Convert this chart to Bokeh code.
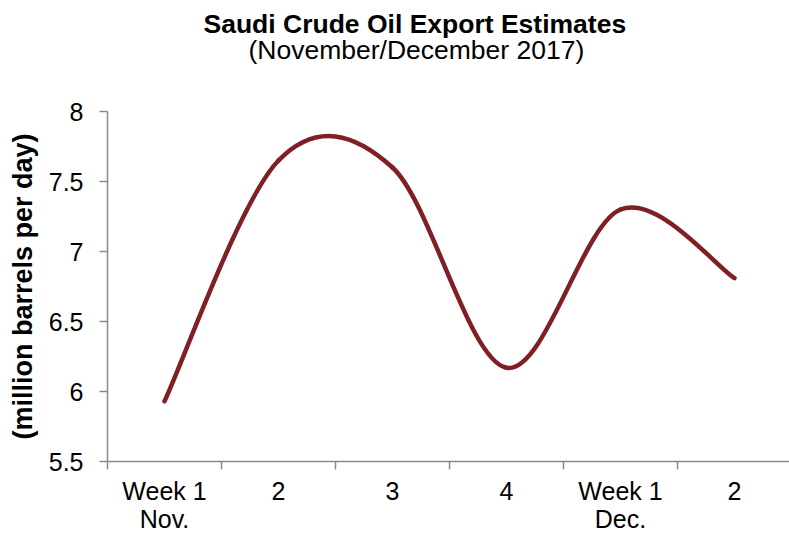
from bokeh.plotting import figure
from bokeh.models import FixedTicker, Title, Range1d, ColumnDataSource, LinearAxis
from bokeh.embed import file_html
from bokeh.resources import INLINE

# ---- data ----
week_labels = ["Week 1", "2", "3", "4", "Week 1", "2"]
month_labels = ["Nov.", "", "", "", "Dec.", ""]
exports = [5.93, 7.65, 7.60, 6.17, 7.30, 6.81]
y_ticks = [5.5, 6, 6.5, 7, 7.5, 8]
title_text = "Saudi Crude Oil Export Estimates"
subtitle_text = "(November/December 2017)"
y_label = "(million barrels per day)"

FONT = "Liberation Sans"
LINE_COLOR = "#7f1f26"
AXIS_COLOR = "#8a8a8a"

n = len(exports)
xs = [i + 0.5 for i in range(n)]

# smooth curve (Catmull-Rom -> cubic Bezier segments)
def ctrl(i):
    prev = max(i - 1, 0)
    nxt = min(i + 1, n - 1)
    return (xs[nxt] - xs[prev]) / 6.0, (exports[nxt] - exports[prev]) / 6.0

x0, y0, x1, y1, cx0, cy0, cx1, cy1 = [], [], [], [], [], [], [], []
for i in range(n - 1):
    dxa, dya = ctrl(i)
    dxb, dyb = ctrl(i + 1)
    x0.append(xs[i]); y0.append(exports[i])
    x1.append(xs[i + 1]); y1.append(exports[i + 1])
    cx0.append(xs[i] + dxa); cy0.append(exports[i] + dya)
    cx1.append(xs[i + 1] - dxb); cy1.append(exports[i + 1] - dyb)

src = ColumnDataSource(dict(x0=x0, y0=y0, x1=x1, y1=y1,
                            cx0=cx0, cy0=cy0, cx1=cx1, cy1=cy1))

p = figure(width=789, height=535, output_backend="svg", toolbar_location=None,
           x_range=Range1d(0, 682 / 114), y_range=Range1d(5.5, 8),
           min_border_left=107, min_border_right=0, min_border_top=111,
           min_border_bottom=73)
p.outline_line_color = None
p.grid.grid_line_color = None
p.background_fill_color = "white"
p.border_fill_color = "white"

p.bezier(x0="x0", y0="y0", x1="x1", y1="y1", cx0="cx0", cy0="cy0",
         cx1="cx1", cy1="cy1", source=src, line_color=LINE_COLOR,
         line_width=4.5, line_cap="round")

# x axis (weeks)
p.xaxis.ticker = FixedTicker(ticks=xs, minor_ticks=list(range(0, n)))
p.xaxis.major_label_overrides = {x: lab for x, lab in zip(xs, week_labels)}
p.xaxis.major_tick_line_color = None
p.xaxis.minor_tick_line_color = AXIS_COLOR
p.xaxis.minor_tick_line_width = 1.5
p.xaxis.minor_tick_out = 8
p.xaxis.minor_tick_in = 0
p.xaxis.axis_line_color = AXIS_COLOR
p.xaxis.axis_line_width = 1.5
p.xaxis.major_label_text_font = FONT
p.xaxis.major_label_text_font_size = "25px"
p.xaxis.major_label_text_color = "black"
p.xaxis.major_label_standoff = 7

# second x axis row (months)
month_ticks = [x for x, m in zip(xs, month_labels) if m]
month_axis = LinearAxis(ticker=FixedTicker(ticks=month_ticks, minor_ticks=[]),
                        major_label_overrides={x: m for x, m in zip(xs, month_labels) if m},
                        axis_line_color=None, major_tick_line_color=None,
                        minor_tick_line_color=None, major_tick_out=0,
                        major_tick_in=0, major_label_standoff=-3,
                        major_label_text_font=FONT,
                        major_label_text_font_size="25px",
                        major_label_text_color="black")
p.add_layout(month_axis, "below")

# y axis
p.yaxis.ticker = FixedTicker(ticks=y_ticks, minor_ticks=[])
p.yaxis.major_label_overrides = {t: ("%g" % t) for t in y_ticks}
p.yaxis.axis_line_color = AXIS_COLOR
p.yaxis.axis_line_width = 1.5
p.yaxis.major_tick_line_color = AXIS_COLOR
p.yaxis.major_tick_line_width = 1.5
p.yaxis.major_tick_out = 8
p.yaxis.major_tick_in = 0
p.yaxis.major_label_text_font = FONT
p.yaxis.major_label_text_font_size = "25px"
p.yaxis.major_label_text_color = "black"
p.yaxis.major_label_standoff = 16
p.yaxis.axis_label = y_label
p.yaxis.axis_label_text_font = FONT
p.yaxis.axis_label_text_font_size = "27px"
p.yaxis.axis_label_text_font_style = "bold"
p.yaxis.axis_label_text_color = "black"
p.yaxis.axis_label_standoff = 8

# titles, stacked upward from the frame: spacer, subtitle, main title
p.add_layout(Title(text=" ", text_font_size="1px", standoff=44), "above")
p.add_layout(Title(text=subtitle_text, align="left", offset=141,
                   text_font=FONT, text_font_size="26.5px",
                   text_font_style="normal", text_color="black",
                   standoff=0), "above")
p.add_layout(Title(text=title_text, align="left", offset=96,
                   text_font=FONT, text_font_size="26.5px",
                   text_font_style="bold", text_color="black",
                   standoff=-13), "above")

open("out.html", "w").write(file_html(p, INLINE))
